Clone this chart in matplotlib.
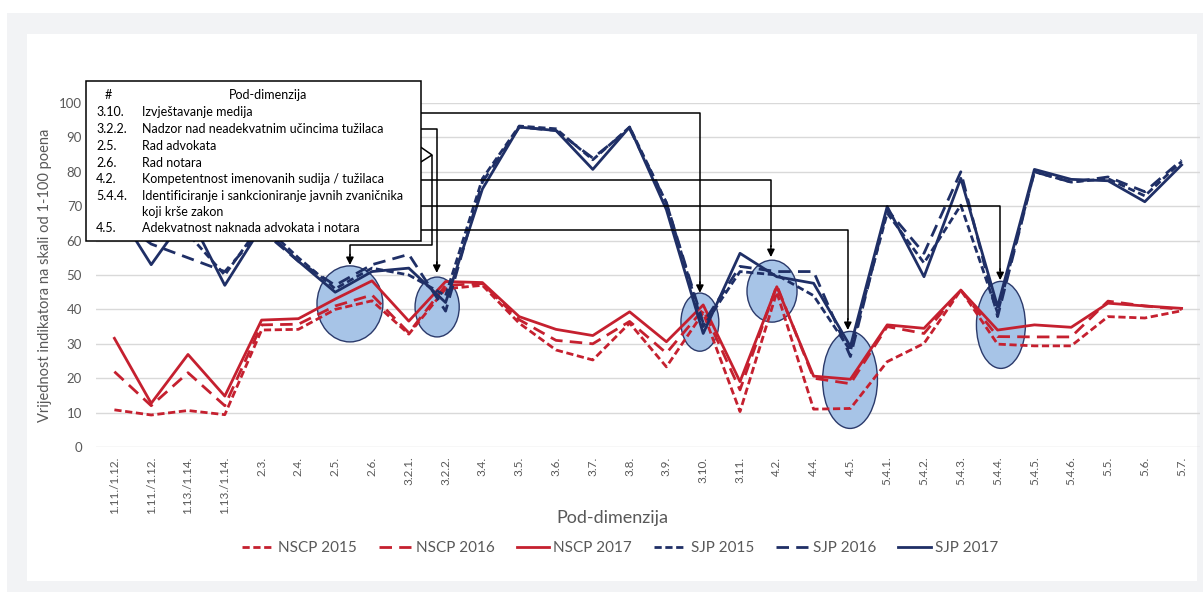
import matplotlib
matplotlib.use("Agg")
import matplotlib.pyplot as plt
from matplotlib.patches import Ellipse, Rectangle

plt.rcParams["font.family"] = ["Lato", "DejaVu Sans"]

# --- data -------------------------------------------------------------
categories = ["1.11./1.12.", "1.11./1.12.", "1.13./1.14.", "1.13./1.14.", "2.3.", "2.4.",
              "2.5.", "2.6.", "3.2.1.", "3.2.2.", "3.4.", "3.5.", "3.6.", "3.7.", "3.8.",
              "3.9.", "3.10.", "3.11.", "4.2.", "4.4.", "4.5.", "5.4.1.", "5.4.2.", "5.4.3.",
              "5.4.4.", "5.4.5.", "5.4.6.", "5.5.", "5.6.", "5.7."]

nscp_2015 = [10.8, 9.3, 10.6, 9.4, 34.0, 34.2, 40.0, 42.5, 32.8, 46.0, 47.0, 36.0, 28.2, 25.3, 36.0,
             23.3, 39.0, 10.3, 45.0, 11.0, 11.2, 24.8, 30.1, 45.6, 29.9, 29.4, 29.4, 37.9, 37.5, 39.6]
nscp_2016 = [21.9, 12.0, 21.6, 12.0, 35.5, 35.7, 41.0, 44.2, 33.2, 47.0, 47.5, 37.0, 31.0, 30.0, 36.5,
             27.3, 40.0, 16.6, 47.0, 20.0, 18.4, 35.0, 33.0, 45.6, 32.1, 32.0, 32.0, 42.4, 41.0, 40.0]
nscp_2017 = [31.6, 12.7, 26.9, 14.8, 36.9, 37.3, 43.0, 48.3, 36.6, 48.1, 47.8, 37.9, 34.2, 32.4, 39.3,
             30.6, 41.3, 19.0, 46.6, 20.6, 19.7, 35.5, 34.5, 45.6, 34.0, 35.5, 34.8, 41.8, 41.0, 40.3]
sjp_2015 = [68.0, 60.0, 62.0, 50.0, 65.0, 55.0, 46.0, 52.0, 50.0, 44.0, 78.0, 93.3, 92.5, 83.5, 93.0,
            71.0, 35.0, 51.0, 50.0, 44.0, 28.0, 68.0, 53.5, 70.3, 39.0, 80.0, 77.0, 78.0, 73.0, 83.0]
sjp_2016 = [67.0, 59.0, 55.0, 51.0, 63.0, 54.0, 47.0, 53.0, 56.0, 39.5, 77.0, 93.0, 92.0, 84.0, 92.5,
            71.0, 36.0, 52.5, 51.0, 51.0, 26.3, 69.0, 56.3, 80.0, 37.9, 80.0, 77.0, 78.5, 74.2, 83.4]
sjp_2017 = [70.0, 53.0, 68.0, 47.0, 64.0, 54.0, 45.0, 51.0, 52.0, 42.0, 75.0, 93.0, 92.0, 80.7, 93.0,
            69.0, 33.0, 56.3, 49.5, 47.6, 29.2, 69.9, 49.5, 78.1, 40.8, 80.7, 77.8, 77.4, 71.3, 82.0]

box_codes = ["3.10.", "3.2.2.", "2.5.", "2.6.", "4.2.", "5.4.4.", "", "4.5."]
box_labels = ["Izvještavanje medija", "Nadzor nad neadekvatnim učincima tužilaca", "Rad advokata",
              "Rad notara", "Kompetentnost imenovanih sudija / tužilaca",
              "Identificiranje i sankcioniranje javnih zvaničnika", "koji krše zakon",
              "Adekvatnost naknada advokata i notara"]

RED = "#c5202f"
NAVY = "#1f2f66"
GREY = "#595959"
SHORT = (0, (2.6, 1.3))
LONG = (0, (4.5, 2.6))

# --- figure / background ----------------------------------------------
W, H = 1203, 592
fig = plt.figure(figsize=(W / 100, H / 100), dpi=100)
fig.patches.append(Rectangle((7 / W, 0), 1 - 7 / W, 1 - 13 / H, transform=fig.transFigure,
                             facecolor="#f2f3f5", edgecolor="none", zorder=-10))
fig.patches.append(Rectangle((27 / W, 11 / H), 1170 / W, 547 / H, transform=fig.transFigure,
                             facecolor="white", edgecolor="none", zorder=-9))

ax = fig.add_axes([96 / W, 1 - 447 / H, 1104 / W, 344 / H])
ax.set_facecolor("none")
x = list(range(len(categories)))

series = [
    (nscp_2015, RED, SHORT, "NSCP 2015"),
    (nscp_2016, RED, LONG, "NSCP 2016"),
    (nscp_2017, RED, "-", "NSCP 2017"),
    (sjp_2015, NAVY, SHORT, "SJP 2015"),
    (sjp_2016, NAVY, LONG, "SJP 2016"),
    (sjp_2017, NAVY, "-", "SJP 2017"),
]
handles = []
for vals, col, ls, lab in series:
    h, = ax.plot(x, vals, color=col, linestyle=ls, lw=2.0, label=lab, zorder=3)
    handles.append(h)

ax.set_xlim(-0.5, len(categories) - 0.5)
ax.set_ylim(0, 100)
ax.set_yticks(range(0, 101, 10))
ax.set_xticks(x)
ax.set_xticklabels(categories, rotation=90, va="top", ha="center")
ax.tick_params(axis="both", length=0, colors=GREY)
ax.tick_params(axis="y", labelsize=9.5, pad=10)
ax.tick_params(axis="x", labelsize=8.5, pad=7)
ax.grid(axis="y", color="#d9d9d9", lw=1.0, zorder=0)
ax.set_axisbelow(True)
for s in ax.spines.values():
    s.set_visible(False)

ax.set_ylabel("Vrijednost indikatora na skali od 1-100 poena", fontsize=10.5, color=GREY, labelpad=5)
fig.text(612 / W, 1 - 518 / H, "Pod-dimenzija", ha="center", va="center", fontsize=13, color=GREY)

leg = fig.legend(handles=handles, loc="center", bbox_to_anchor=(620 / W, 1 - 548 / H), ncol=6,
                 frameon=False, fontsize=11, handlelength=2.1, handletextpad=0.3, columnspacing=1.45)
for t in leg.get_texts():
    t.set_color(GREY)

# --- highlight ellipses (data coords) ----------------------------------
ellipses = [(6.40, 41.6, 1.79, 22.1), (8.77, 40.7, 1.20, 17.4), (15.91, 36.3, 1.03, 16.9),
            (17.87, 45.3, 1.36, 18.0), (19.99, 19.5, 1.49, 28.2), (24.09, 35.5, 1.33, 25.3)]
for cx, cy, ew, eh in ellipses:
    ax.add_patch(Ellipse((cx, cy), ew, eh, facecolor="#a7c4e7", edgecolor="#2b3a6b",
                         lw=1.0, zorder=2, clip_on=False))

# --- legend box with codes ---------------------------------------------
bx0, bx1, by0, by1 = -0.78, 8.32, 59.9, 106.4
ax.add_patch(Rectangle((bx0, by0), bx1 - bx0, by1 - by0, facecolor="white", edgecolor="black",
                       lw=1.1, zorder=6, clip_on=False))
ax.text(-0.17, 102.3, "#", ha="center", va="center", fontsize=9, zorder=7)
ax.text(4.17, 102.3, "Pod-dimenzija", ha="center", va="center", fontsize=9, zorder=7)
row_y = [97.3, 92.4, 87.6, 82.6, 77.8, 73.0, 68.4, 63.6]
for yy, code, lab in zip(row_y, box_codes, box_labels):
    ax.text(-0.5, yy, code, ha="left", va="center", fontsize=9, zorder=7)
    ax.text(0.74, yy, lab, ha="left", va="center", fontsize=9, zorder=7)

# --- connectors ---------------------------------------------------------
kw = dict(color="black", lw=1.1, zorder=5, clip_on=False, solid_capstyle="butt")
arrow = dict(arrowstyle="-|>", color="black", lw=1.1, mutation_scale=11, shrinkA=0, shrinkB=0)
connectors = [
    ([bx1, 15.91, 15.91], [97.1, 97.1, 47.5], 44.8),
    ([bx1, 8.76, 8.76], [92.4, 92.4, 53.3], 50.6),
    ([bx1, 17.84, 17.84], [77.6, 77.6, 58.0], 55.2),
    ([bx1, 24.07, 24.07], [70.1, 70.1, 51.3], 48.5),
    ([bx1, 19.93, 19.93], [63.1, 63.1, 36.8], 34.0),
]
for xs, ys, tip in connectors:
    ax.plot(xs, ys, **kw)
    ax.annotate("", xy=(xs[-1], tip), xytext=(xs[-1], ys[-1] + 0.5),
                arrowprops=arrow, zorder=5, annotation_clip=False)
# bracket for 2.5 / 2.6
ax.plot([bx1, 8.63, bx1], [87.2, 84.9, 82.8], **kw)
ax.plot([8.63, 8.63, 6.40, 6.40], [84.9, 58.7, 58.7, 55.6], **kw)
ax.annotate("", xy=(6.40, 52.9), xytext=(6.40, 56.0),
            arrowprops=arrow, zorder=5, annotation_clip=False)

fig.savefig("out.png", dpi=100)
